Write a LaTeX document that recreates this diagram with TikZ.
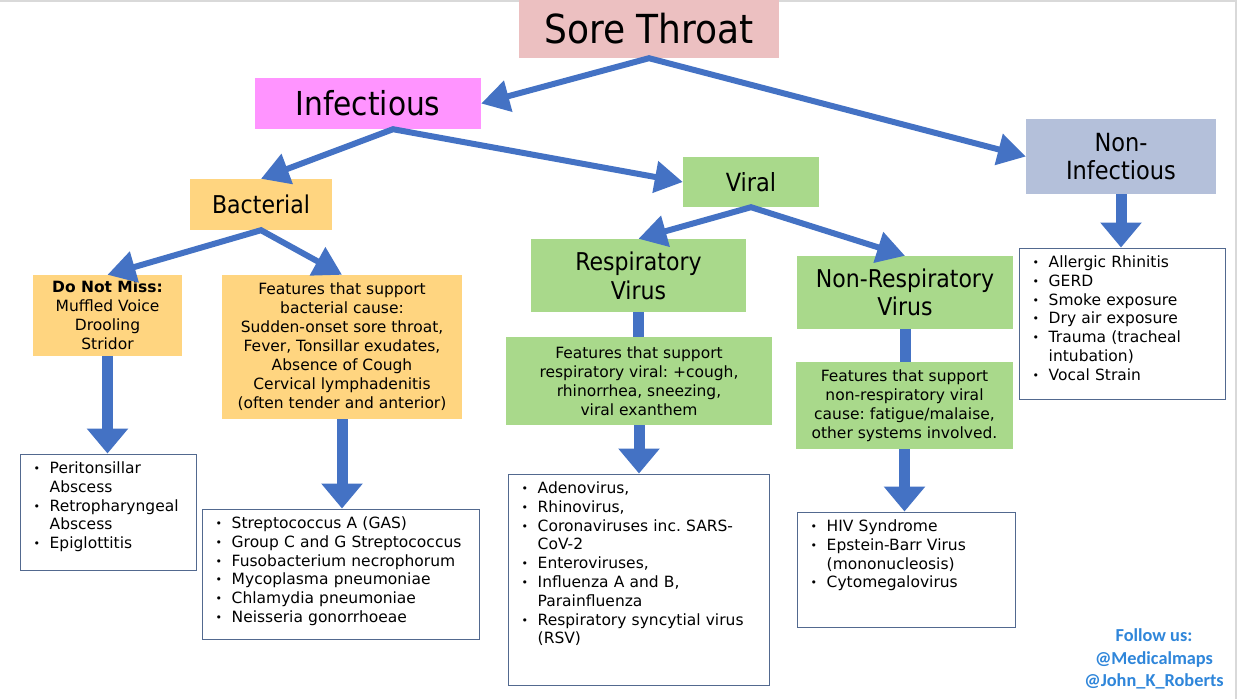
\documentclass[tikz,border=0pt]{standalone}
\usepackage{fontspec}
\setmainfont{DejaVu Sans}
\newfontfamily\hdrfont{DejaVu Sans Condensed}
\newfontfamily\followfont{Carlito}
\usetikzlibrary{arrows.meta,calc}
\frenchspacing
\definecolor{ab}{HTML}{4472C4}
\definecolor{stpink}{HTML}{ECC0C1}
\definecolor{infpink}{HTML}{FF94FF}
\definecolor{nigray}{HTML}{B4C0DA}
\definecolor{grn}{HTML}{A9D98B}
\definecolor{org}{HTML}{FFD580}
\definecolor{lborder}{HTML}{52698F}
\definecolor{follow}{HTML}{2F86DA}
\newcommand{\itm}[1]{\hangindent=16pt\hangafter=1\noindent\makebox[16pt][l]{\raisebox{1pt}{\fontsize{11}{11}\selectfont •}}#1\par}
\tikzset{
  hdr/.style={inner sep=0pt, align=center, font=\hdrfont},
  feat/.style={inner sep=0pt, align=center, fill=#1, font=\fontsize{15.5}{19}\selectfont},
  listbox/.style={draw=lborder, line width=1pt, fill=white, inner sep=0pt},
  listtext/.style={inner sep=0pt, anchor=north west, align=left, font=\fontsize{15.5}{18.8}\selectfont},
  darr/.style={draw=ab, line width=6pt, line join=miter, {Triangle[length=28pt,width=31pt]}-{Triangle[length=28pt,width=31pt]}},
  varr/.style={draw=ab, line width=11pt, -{Triangle[length=25pt,width=40pt]}},
  vline/.style={draw=ab, line width=11pt}
}
\begin{document}
\frenchspacing
\begin{tikzpicture}[x=1pt,y=-1pt]
\useasboundingbox (0,0) rectangle (1239,699);
\fill[white] (0,0) rectangle (1239,699);
\draw[gray!30, line width=2pt] (0,1) -- (1236,1) -- (1236,699);
% header boxes
\node[hdr, fill=stpink, minimum width=260pt, minimum height=58pt, font=\hdrfont\fontsize{40}{44}\selectfont] (st) at (649,29) {Sore Throat};
\node[hdr, fill=infpink, minimum width=226pt, minimum height=51pt, font=\hdrfont\fontsize{33}{36}\selectfont] (inf) at (368,103.5) {Infectious};
\node[hdr, fill=nigray, minimum width=190pt, minimum height=75pt, font=\hdrfont\fontsize{25}{28}\selectfont] (ni) at (1121,156.5) {Non-\\Infectious};
\node[hdr, fill=grn, minimum width=136pt, minimum height=50pt, font=\hdrfont\fontsize{25}{28}\selectfont] (vir) at (751,182) {Viral};
\node[hdr, fill=org, minimum width=142pt, minimum height=51pt, font=\hdrfont\fontsize{24.5}{28}\selectfont] (bac) at (261,204.5) {Bacterial};
\node[hdr, fill=grn, minimum width=215pt, minimum height=73pt, font=\hdrfont\fontsize{24.5}{29}\selectfont] (rv) at (638.5,275.5) {Respiratory\\Virus};
\node[hdr, fill=grn, minimum width=216pt, minimum height=73pt, font=\hdrfont\fontsize{24.5}{28}\selectfont] (nrv) at (905,292.5) {Non-Respiratory\\Virus};
% feature boxes
\node[feat=org, minimum width=149pt, minimum height=81pt] (dnm) at (107.5,315.5) {\textbf{Do Not Miss:}\\Muffled Voice\\Drooling\\Stridor};
\node[feat=org, minimum width=240pt, minimum height=144pt] (fb) at (342,347) {Features that support\\bacterial cause:\\Sudden-onset sore throat,\\Fever, Tonsillar exudates,\\Absence of Cough\\Cervical lymphadenitis\\(often tender and anterior)};
\node[feat=grn, minimum width=266pt, minimum height=88pt] (fr) at (639,381) {Features that support\\respiratory viral: +cough,\\rhinorrhea, sneezing,\\viral exanthem};
\node[feat=grn, minimum width=217pt, minimum height=87pt] (fn) at (904.5,405.5) {Features that support\\non-respiratory viral\\cause: fatigue/malaise,\\other systems involved.};
% list boxes
\node[listbox, minimum width=206pt, minimum height=151pt] (al) at (1122,323.5) {};
\node[listtext, text width=195pt] (alt) at ([shift={(14,8)}]al.north west) {\itm{Allergic Rhinitis}\itm{GERD}\itm{Smoke exposure}\itm{Dry air exposure}\itm{Trauma (tracheal\newline intubation)}\itm{Vocal Strain}};
\node[listbox, minimum width=176pt, minimum height=116pt] (pl) at (108,512) {};
\node[listtext, text width=165pt] (plt) at ([shift={(14,8)}]pl.north west) {\itm{Peritonsillar\newline Abscess}\itm{Retropharyngeal\newline Abscess}\itm{Epiglottitis}};
\node[listbox, minimum width=277pt, minimum height=130pt] (sl) at (340.5,574) {};
\node[listtext, text width=265pt] (slt) at ([shift={(14,8)}]sl.north west) {\itm{Streptococcus A (GAS)}\itm{Group C and G Streptococcus}\itm{Fusobacterium necrophorum}\itm{Mycoplasma pneumoniae}\itm{Chlamydia pneumoniae}\itm{Neisseria gonorrhoeae}};
\node[listbox, minimum width=261pt, minimum height=211pt] (avl) at (638.5,579.5) {};
\node[listtext, text width=250pt] (avt) at ([shift={(14,8)}]avl.north west) {\itm{Adenovirus,}\itm{Rhinovirus,}\itm{Coronaviruses inc. SARS-\newline CoV-2}\itm{Enteroviruses,}\itm{Influenza A and B,\newline Parainfluenza}\itm{Respiratory syncytial virus\newline (RSV)}};
\node[listbox, minimum width=218pt, minimum height=115pt] (hl) at (906,569.5) {};
\node[listtext, text width=205pt] (hlt) at ([shift={(14,8)}]hl.north west) {\itm{HIV Syndrome}\itm{Epstein-Barr Virus\newline (mononucleosis)}\itm{Cytomegalovirus}};
% follow
\node[inner sep=0pt, align=center, text=follow, font=\followfont\bfseries\fontsize{18.3}{22.5}\selectfont] (fol) at (1154,659) {Follow us:\\@Medicalmaps\\@John\_K\_Roberts};
% connectors
\draw[darr] (inf.east) -- (st.south) -- (ni.west);
\draw[darr] (bac.north) -- ([xshift=25pt]inf.south) -- (vir.west);
\draw[darr] (dnm.north) -- (bac.south) -- (fb.north);
\draw[darr] (rv.north) -- (vir.south) -- (nrv.north);
\draw[varr] (dnm.south) -- (dnm.south |- pl.north);
\draw[varr] (fb.south) -- (fb.south |- sl.north);
\draw[vline] (rv.south) -- (rv.south |- fr.north);
\draw[varr] (fr.south) -- (fr.south |- avl.north);
\draw[vline] (nrv.south) -- (nrv.south |- fn.north);
\draw[varr] (fn.south) -- (fn.south |- hl.north);
\draw[varr] (ni.south) -- (ni.south |- al.north);
\end{tikzpicture}
\end{document}
